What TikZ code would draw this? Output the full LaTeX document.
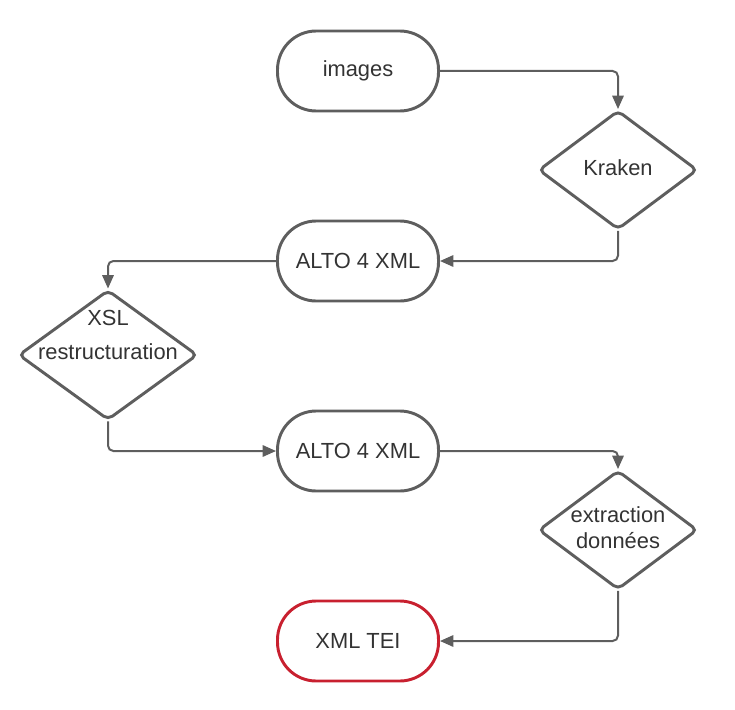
\documentclass[tikz,border=0pt]{standalone}
\usepackage{fontspec}
\setmainfont{Liberation Sans}
\usetikzlibrary{positioning, shapes.geometric, arrows.meta}
\definecolor{linegray}{HTML}{5E5E5E}
\definecolor{textgray}{HTML}{333333}
\definecolor{teired}{HTML}{C8202F}
\tikzstyle{arrow} = [line width=1.5pt, draw=linegray, rounded corners=4pt, -{Triangle[length=10pt,width=8.5pt]}]
\tikzstyle{term} = [rectangle, draw=linegray, line width=2.2pt, rounded corners=29pt, minimum width=120.75pt, minimum height=60pt, text=textgray]
\tikzstyle{choice} = [diamond, draw=linegray, line width=2.2pt, rounded corners=4pt, inner sep=0pt, minimum width=119.25pt, minimum height=89.25pt]

\begin{document}
\begin{tikzpicture}[x=0.75pt, y=-0.75pt, font=\fontsize{16.4}{19.5}\selectfont, every label/.style={text=textgray, align=center, yshift=1.5pt}]
  \useasboundingbox (0,0) rectangle (735,710);

  % Nodes
  \node[term] (img) at (358,71) {images};
  \node[choice, label=center:Kraken] (krk) at (618,170) {};
  \node[term] (alto1) at (358,261) {ALTO 4 XML};
  \node[choice, minimum width=134.25pt, minimum height=97.5pt,
        label={[font=\fontsize{16.4}{25.5}\selectfont, yshift=13.5pt]center:XSL\\restructuration}] (xsl) at (108,355) {};
  \node[term] (alto2) at (358,451) {ALTO 4 XML};
  \node[choice, label={[font=\fontsize{16.4}{19.5}\selectfont]center:extraction\\données}] (extr) at (618,530) {};
  \node[term, draw=teired] (tei) at (358,641) {XML TEI};

  % Connectors
  \draw[arrow] (img.east) -| (krk.north);
  \draw[arrow] (krk.south) |- (alto1.east);
  \draw[arrow] (alto1.west) -| (xsl.north);
  \draw[arrow] (xsl.south) |- (alto2.west);
  \draw[arrow] (alto2.east) -| (extr.north);
  \draw[arrow] (extr.south) |- (tei.east);
\end{tikzpicture}
\end{document}
